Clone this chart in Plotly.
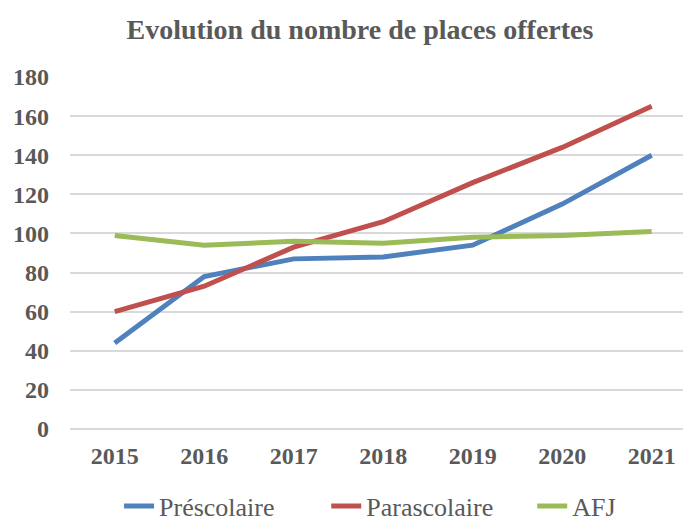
import plotly.graph_objects as go

years = ["2015", "2016", "2017", "2018", "2019", "2020", "2021"]
prescolaire = [44, 78, 87, 88, 94, 115, 140]
parascolaire = [60, 73, 93, 106, 126, 144, 165]
afj = [99, 94, 96, 95, 98, 99, 101]
y_ticks = [0, 20, 40, 60, 80, 100, 120, 140, 160, 180]

FONT = "Liberation Serif"
GREY = "#595959"

series = [("Préscolaire", prescolaire, "#4F81BD", "legend", 0.080),
          ("Parascolaire", parascolaire, "#C0504D", "legend2", 0.418),
          ("AFJ", afj, "#9BBB59", "legend3", 0.754)]

fig = go.Figure()
legends = {}
for name, vals, col, leg, lx in series:
    fig.add_trace(go.Scatter(x=years, y=vals, name=name, mode="lines",
                             line=dict(color=col, width=5), legend=leg))
    legends[leg] = dict(orientation="h", x=lx, xanchor="left", y=-0.219, yanchor="middle",
                        bgcolor="rgba(0,0,0,0)",
                        font=dict(family=FONT, size=26, color=GREY))

fig.update_layout(
    width=683, height=521,
    margin=dict(l=70, r=0, t=77, b=92, autoexpand=False),
    paper_bgcolor="white", plot_bgcolor="white",
    title=dict(text="<b>Evolution du nombre de places offertes</b>",
               x=0.527, xanchor="center", y=0.944, yanchor="middle",
               font=dict(family=FONT, size=28, color=GREY)),
    font=dict(family=FONT, color=GREY),
    showlegend=True,
    hovermode=False,
    **legends,
)
fig.update_xaxes(type="category", range=[-0.5, 6.35], showgrid=False, showline=False,
                 automargin=False, ticks="", ticklabelstandoff=10,
                 tickmode="array", tickvals=years,
                 ticktext=["<b>" + y + "</b>" for y in years],
                 tickfont=dict(family=FONT, size=24, color=GREY))
fig.update_yaxes(range=[0, 180], tickmode="array", tickvals=y_ticks,
                 ticktext=["<b>" + str(v) + "</b>" for v in y_ticks],
                 showgrid=True, gridcolor="#D9D9D9", automargin=False,
                 gridwidth=1.5, zeroline=True, zerolinecolor="#D9D9D9", zerolinewidth=1.5,
                 showline=False, ticks="", ticklabelstandoff=20,
                 tickfont=dict(family=FONT, size=24, color=GREY))
fig.write_html("out.html", config={"displayModeBar": False},
               post_script="document.body.style.margin='0';document.body.style.overflow='hidden';")
